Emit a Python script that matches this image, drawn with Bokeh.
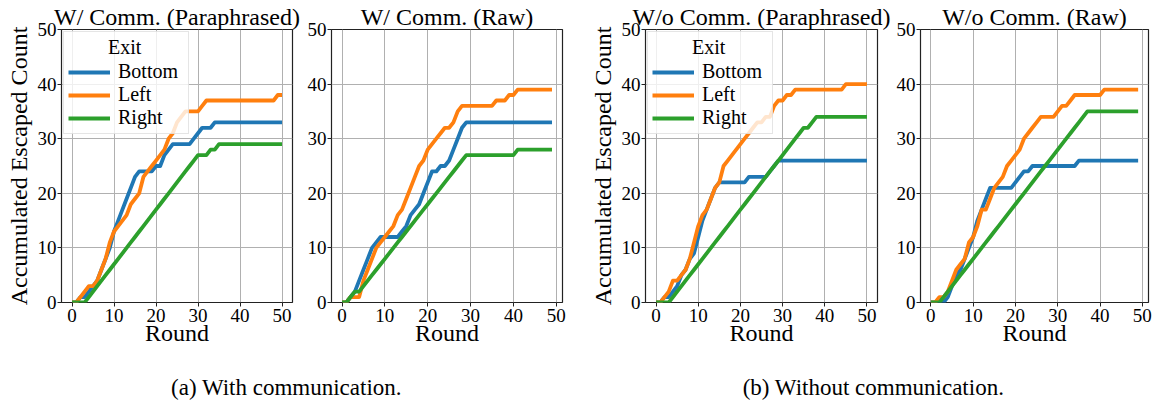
from bokeh.plotting import figure
from bokeh.layouts import row, column
from bokeh.models import Range1d, Label, Legend, LegendItem
from bokeh.embed import file_html
from bokeh.resources import INLINE

FONT = "'Liberation Serif', 'Times New Roman', serif"
EXITS = ["Bottom", "Left", "Right"]
COLORS = ["#1f77b4", "#ff7f0e", "#2ca02c"]
X_TICKS = [0, 10, 20, 30, 40, 50]
Y_TICKS = [0, 10, 20, 30, 40, 50]

rounds_para = list(range(51))
rounds_raw = list(range(50))

# ---- With communication, paraphrased ----
bottom_wc_para = [0, 0, 1, 1, 2, 3, 4, 6, 8, 10, 13, 15, 17, 19, 21, 23, 24, 24, 24, 24,
                  25, 25, 27, 28, 29, 29, 29, 29, 29, 30, 31, 32, 32, 32, 33, 33, 33, 33, 33, 33,
                  33, 33, 33, 33, 33, 33, 33, 33, 33, 33, 33]
left_wc_para = [0, 0, 1, 2, 3, 3, 4, 6, 8, 11, 13, 14, 15, 16, 18, 19, 20, 23, 24, 25,
                26, 27, 28, 30, 31, 33, 34, 35, 35, 35, 35, 36, 37, 37, 37, 37, 37, 37, 37, 37,
                37, 37, 37, 37, 37, 37, 37, 37, 37, 38, 38]
right_wc_para = [0, 0, 0, 0, 1, 2, 3, 4, 5, 6, 7, 8, 9, 10, 11, 12, 13, 14, 15, 16,
                 17, 18, 19, 20, 21, 22, 23, 24, 25, 26, 27, 27, 27, 28, 28, 29, 29, 29, 29, 29,
                 29, 29, 29, 29, 29, 29, 29, 29, 29, 29, 29]

# ---- With communication, raw ----
bottom_wc_raw = [0, 0, 1, 2, 4, 6, 8, 10, 11, 12, 12, 12, 12, 12, 13, 14, 16, 17, 18, 20,
                 22, 24, 24, 25, 25, 26, 28, 30, 32, 33, 33, 33, 33, 33, 33, 33, 33, 33, 33, 33,
                 33, 33, 33, 33, 33, 33, 33, 33, 33, 33]
left_wc_raw = [0, 0, 1, 1, 1, 4, 6, 8, 10, 11, 12, 13, 14, 16, 17, 19, 21, 23, 25, 26,
               28, 29, 30, 31, 32, 32, 33, 35, 36, 36, 36, 36, 36, 36, 36, 36, 37, 37, 37, 38,
               38, 39, 39, 39, 39, 39, 39, 39, 39, 39]
right_wc_raw = [0, 0, 1, 2, 2, 3, 4, 5, 6, 7, 8, 9, 10, 11, 12, 13, 14, 15, 16, 17,
                18, 19, 20, 21, 22, 23, 24, 25, 26, 27, 27, 27, 27, 27, 27, 27, 27, 27, 27, 27,
                27, 28, 28, 28, 28, 28, 28, 28, 28, 28]

# ---- Without communication, paraphrased ----
bottom_wo_para = [0, 0, 1, 1, 2, 3, 5, 6, 8, 9, 12, 15, 17, 19, 21, 22, 22, 22, 22, 22,
                  22, 22, 23, 23, 23, 23, 23, 24, 25, 26, 26, 26, 26, 26, 26, 26, 26, 26, 26, 26,
                  26, 26, 26, 26, 26, 26, 26, 26, 26, 26, 26]
left_wo_para = [0, 0, 1, 2, 4, 4, 5, 6, 8, 11, 14, 16, 17, 19, 21, 22, 25, 26, 27, 28,
                29, 30, 31, 32, 33, 33, 34, 34, 36, 37, 37, 38, 38, 39, 39, 39, 39, 39, 39, 39,
                39, 39, 39, 39, 39, 40, 40, 40, 40, 40, 40]
right_wo_para = [0, 0, 0, 0, 1, 2, 3, 4, 5, 6, 7, 8, 9, 10, 11, 12, 13, 14, 15, 16,
                 17, 18, 19, 20, 21, 22, 23, 24, 25, 26, 27, 28, 29, 30, 31, 32, 32, 33, 34, 34,
                 34, 34, 34, 34, 34, 34, 34, 34, 34, 34, 34]

# ---- Without communication, raw ----
bottom_wo_raw = [0, 0, 0, 0, 1, 3, 5, 6, 8, 10, 12, 15, 17, 19, 21, 21, 21, 21, 21, 21,
                 22, 23, 24, 24, 25, 25, 25, 25, 25, 25, 25, 25, 25, 25, 25, 26, 26, 26, 26, 26,
                 26, 26, 26, 26, 26, 26, 26, 26, 26, 26]
left_wo_raw = [0, 0, 1, 1, 2, 4, 6, 7, 8, 11, 12, 14, 17, 17, 19, 21, 22, 23, 25, 26,
               27, 28, 30, 31, 32, 33, 34, 34, 34, 34, 35, 36, 36, 37, 38, 38, 38, 38, 38, 38,
               38, 39, 39, 39, 39, 39, 39, 39, 39, 39]
right_wo_raw = [0, 0, 0, 1, 2, 3, 4, 5, 6, 7, 8, 9, 10, 11, 12, 13, 14, 15, 16, 17,
                18, 19, 20, 21, 22, 23, 24, 25, 26, 27, 28, 29, 30, 31, 32, 33, 34, 35, 35, 35,
                35, 35, 35, 35, 35, 35, 35, 35, 35, 35]

titles = ["W/ Comm. (Paraphrased)", "W/ Comm. (Raw)",
          "W/o Comm. (Paraphrased)", "W/o Comm. (Raw)"]
x_label = "Round"
y_label = "Accumulated Escaped Count"
legend_title = "Exit"
captions = ["(a) With communication.", "(b) Without communication."]

NBSP = "\u00a0"


def make_panel(title, rounds, series, width, bl, br, ylabel, legend):
    n = rounds[-1]
    x0, x1 = -0.05 * n, 1.05 * n
    p = figure(width=width, height=356, output_backend="svg", toolbar_location=None,
               x_range=Range1d(x0, x1), y_range=Range1d(0, 50),
               min_border_left=bl, min_border_right=br, min_border_top=29,
               min_border_bottom=54)
    p.background_fill_color = "white"
    p.border_fill_color = "white"
    p.outline_line_color = "#222222"
    p.outline_line_width = 1.2
    p.title.text = title
    p.title.align = "center"
    p.title.text_font = FONT
    p.title.text_font_size = "24px"
    p.title.text_font_style = "normal"
    p.title.text_color = "black"
    p.title.standoff = 0
    p.title.offset = 0
    p.xaxis.ticker = X_TICKS
    p.yaxis.ticker = Y_TICKS
    for ax in (p.xaxis[0], p.yaxis[0]):
        ax.axis_line_color = None
        ax.major_tick_out = 4
        ax.major_tick_in = 0
        ax.major_tick_line_color = "#222222"
        ax.minor_tick_line_color = None
        ax.major_label_text_font = FONT
        ax.major_label_text_font_size = "19px"
        ax.major_label_text_color = "black"
        ax.axis_label_text_font = FONT
        ax.axis_label_text_font_size = "24px"
        ax.axis_label_text_font_style = "normal"
        ax.axis_label_text_color = "black"
    p.xaxis.major_label_standoff = 2
    p.yaxis.major_label_standoff = 1
    p.xaxis.axis_label = x_label
    p.xaxis.axis_label_standoff = -5
    if ylabel:
        p.yaxis.axis_label = y_label
        p.yaxis.axis_label_standoff = 3
    p.grid.grid_line_color = "#b0b0b0"
    p.grid.grid_line_width = 1
    items = []
    for name, vals, col in zip(EXITS, series, COLORS):
        r = p.line(rounds, vals, line_color=col, line_width=3.8, line_join="round")
        items.append(LegendItem(label=name, renderers=[r]))
    if legend:
        # non-breaking spaces push the title towards the centre of the box
        lg = Legend(items=items, location="top_left", title=NBSP * 8 + legend_title)
        lg.title_text_font = FONT
        lg.title_text_font_size = "20px"
        lg.title_text_font_style = "normal"
        lg.title_text_color = "black"
        lg.title_standoff = 1
        lg.label_text_font = FONT
        lg.label_text_font_size = "20px"
        lg.label_text_color = "black"
        lg.glyph_width = 42
        lg.glyph_height = 20
        lg.label_height = 20
        lg.label_width = 66
        lg.label_standoff = 8
        lg.spacing = 0
        lg.padding = 4
        lg.margin = 2
        lg.border_line_color = "#cccccc"
        lg.background_fill_alpha = 0.8
        p.add_layout(lg)
    return p


p1 = make_panel(titles[0], rounds_para, [bottom_wc_para, left_wc_para, right_wc_para],
                304, 61, 12, True, True)
p2 = make_panel(titles[1], rounds_raw, [bottom_wc_raw, left_wc_raw, right_wc_raw],
                278, 25, 20, False, False)
p3 = make_panel(titles[2], rounds_para, [bottom_wo_para, left_wo_para, right_wo_para],
                311, 63, 16, True, True)
p4 = make_panel(titles[3], rounds_raw, [bottom_wo_raw, left_wo_raw, right_wo_raw],
                265, 25, 10, False, False)

cap = figure(width=1158, height=45, output_backend="svg", toolbar_location=None,
             x_range=Range1d(0, 1158), y_range=Range1d(0, 45), min_border=0)
cap.xaxis.visible = False
cap.yaxis.visible = False
cap.grid.visible = False
cap.outline_line_color = None
for txt, xc in zip(captions, [286, 873]):
    cap.add_layout(Label(x=xc, y=14, text=txt, text_align="center",
                         text_baseline="alphabetic", text_font=FONT,
                         text_font_size="23px", text_color="black"))

layout = column(row(p1, p2, p3, p4, spacing=0), cap, spacing=0)
open("out.html", "w").write(file_html(layout, INLINE))
